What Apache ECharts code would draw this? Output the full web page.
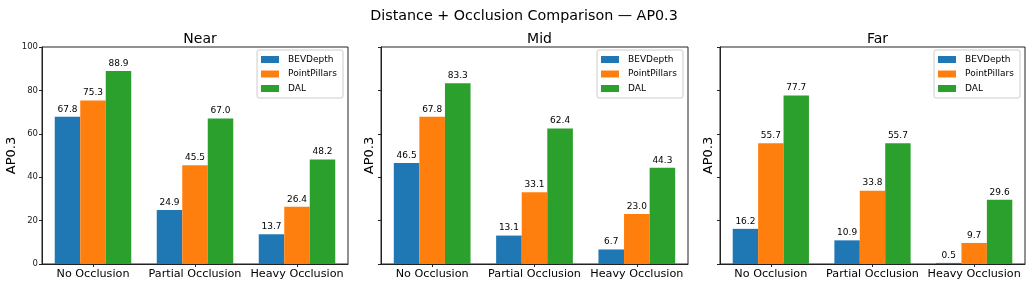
<!DOCTYPE html>
<html>
<head>
<meta charset="utf-8">
<script src="https://cdn.jsdelivr.net/npm/echarts@6/dist/echarts.min.js"></script>
<style>
html,body{margin:0;padding:0;background:#fff;}
#c{width:1033px;height:287px;}
</style>
</head>
<body>
<div id="c"></div>
<script>
const categories = ['No Occlusion', 'Partial Occlusion', 'Heavy Occlusion'];
const seriesNames = ['BEVDepth', 'PointPillars', 'DAL'];
const seriesColors = ['#1f77b4', '#ff7f0e', '#2ca02c'];
const panelTitles = ['Near', 'Mid', 'Far'];

const nearBEVDepth = [67.8, 24.9, 13.7];
const nearPointPillars = [75.3, 45.5, 26.4];
const nearDAL = [88.9, 67.0, 48.2];

const midBEVDepth = [46.5, 13.1, 6.7];
const midPointPillars = [67.8, 33.1, 23.0];
const midDAL = [83.3, 62.4, 44.3];

const farBEVDepth = [16.2, 10.9, 0.5];
const farPointPillars = [55.7, 33.8, 9.7];
const farDAL = [77.7, 55.7, 29.6];

const panelData = [
  [nearBEVDepth, nearPointPillars, nearDAL],
  [midBEVDepth, midPointPillars, midDAL],
  [farBEVDepth, farPointPillars, farDAL]
];

const yMin = 0, yMax = 100, yInterval = 20;
const FONT = 'DejaVu Sans';

const grids = [
  {left: 42, width: 306},
  {left: 381, width: 307},
  {left: 720, width: 305}
];
const legendRights = [690, 350, 13];
const nameGaps = [24, 5, 5];

const option = {
  animation: false,
  backgroundColor: '#fff',
  textStyle: {fontFamily: FONT},
  title: [{
    text: 'Distance + Occlusion Comparison — AP0.3',
    left: 519, top: 4, textAlign: 'center',
    textStyle: {fontFamily: FONT, fontSize: 14.3, fontWeight: 'normal', color: '#000'}
  }],
  grid: [],
  xAxis: [],
  yAxis: [],
  legend: [],
  series: []
};

grids.forEach((g, i) => {
  option.grid.push({
    left: g.left, width: g.width, top: 47, height: 217,
    show: true, borderColor: '#222', borderWidth: 1, containLabel: false
  });
  option.title.push({
    text: panelTitles[i],
    left: g.left + g.width / 2, top: 27, textAlign: 'center',
    textStyle: {fontFamily: FONT, fontSize: 14, fontWeight: 'normal', color: '#000'}
  });
  option.xAxis.push({
    type: 'category', gridIndex: i, data: categories,
    axisLine: {show: true, lineStyle: {color: '#222', width: 1}},
    axisTick: {show: true, alignWithLabel: true, length: 3, lineStyle: {color: '#222'}},
    axisLabel: {fontFamily: FONT, fontSize: 11.2, color: '#000', margin: 5, interval: 0},
    splitLine: {show: false}
  });
  option.yAxis.push({
    type: 'value', gridIndex: i, min: yMin, max: yMax, interval: yInterval,
    name: 'AP0.3', nameLocation: 'middle', nameGap: nameGaps[i],
    nameTextStyle: {fontFamily: FONT, fontSize: 13, color: '#000'},
    axisLine: {show: true, lineStyle: {color: '#222', width: 1}},
    axisTick: {show: true, length: 3, lineStyle: {color: '#222'}},
    axisLabel: {show: i === 0, fontFamily: FONT, fontSize: 8.5, color: '#222', margin: 4},
    splitLine: {show: false}
  });
  option.legend.push({
    data: seriesNames, orient: 'vertical',
    right: legendRights[i], top: 50,
    icon: 'rect', itemWidth: 18, itemHeight: 7, itemGap: 3.5,
    padding: [4, 6, 4, 4],
    borderColor: '#ccc', borderWidth: 1, borderRadius: 2,
    backgroundColor: 'rgba(255,255,255,0.8)',
    textStyle: {fontFamily: FONT, fontSize: 9, color: '#000', lineHeight: 11, padding: [0, 0, 0, 4]}
  });
  seriesNames.forEach((name, k) => {
    option.series.push({
      type: 'bar', name: name,
      xAxisIndex: i, yAxisIndex: i,
      data: panelData[i][k],
      barGap: '0%', barCategoryGap: '25%',
      itemStyle: {color: seriesColors[k]},
      label: {
        show: true, position: 'top', distance: 3,
        fontFamily: FONT, fontSize: 9, color: '#000',
        formatter: p => Number(p.value).toFixed(1)
      }
    });
  });
});

const chart = echarts.init(document.getElementById('c'), null, {renderer: 'canvas'});
chart.setOption(option);
</script>
</body>
</html>
